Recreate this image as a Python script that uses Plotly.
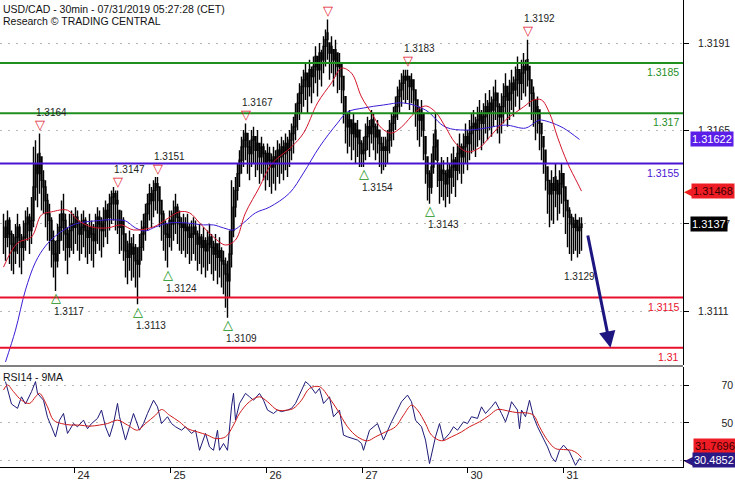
import plotly.graph_objects as go

# ---------------- data ----------------
closes = [
    1.3136, 1.3133, 1.3138, 1.3134, 1.3131, 1.3129, 1.3133, 1.3136, 1.3132, 1.3130,
    1.3133, 1.3137, 1.3139, 1.3135, 1.3138, 1.3148, 1.3155, 1.3152, 1.3158, 1.3150,
    1.3148, 1.3144, 1.3140, 1.3138, 1.3132, 1.3128, 1.3126, 1.3132, 1.3136, 1.3140,
    1.3138, 1.3134, 1.3130, 1.3135, 1.3137, 1.3136, 1.3139, 1.3137, 1.3134, 1.3136,
    1.3138, 1.3135, 1.3133, 1.3136, 1.3134, 1.3132, 1.3136, 1.3139, 1.3137, 1.3135,
    1.3138, 1.3141, 1.3139, 1.3143, 1.3145, 1.3146, 1.3143, 1.3144, 1.3136, 1.3138,
    1.3134, 1.3129, 1.3127, 1.3131, 1.3128, 1.3130, 1.3126, 1.3125, 1.3130, 1.3134,
    1.3136, 1.3140, 1.3143, 1.3146, 1.3144, 1.3147, 1.3149, 1.3148, 1.3144, 1.3140,
    1.3137, 1.3134, 1.3133, 1.3138, 1.3137, 1.3140, 1.3142, 1.3139, 1.3137, 1.3136,
    1.3137, 1.3135, 1.3136, 1.3133, 1.3134, 1.3136, 1.3134, 1.3131, 1.3133, 1.3130,
    1.3132, 1.3129, 1.3131, 1.3133, 1.3130, 1.3128, 1.3131, 1.3127, 1.3129, 1.3126,
    1.3125, 1.3122, 1.3120, 1.3128, 1.3135, 1.3142, 1.3147, 1.3152, 1.3156, 1.3160,
    1.3162, 1.3164, 1.3160, 1.3158, 1.3162, 1.3163, 1.3159, 1.3161, 1.3157, 1.3160,
    1.3158, 1.3155, 1.3158, 1.3156, 1.3154, 1.3157, 1.3155, 1.3159, 1.3157, 1.3160,
    1.3158, 1.3161, 1.3159, 1.3162, 1.3164, 1.3166, 1.3170, 1.3173, 1.3176, 1.3178,
    1.3180, 1.3182, 1.3178, 1.3183, 1.3181, 1.3184, 1.3187, 1.3183, 1.3188, 1.3186,
    1.3190, 1.3192, 1.3194, 1.3188, 1.3190, 1.3186, 1.3189, 1.3184, 1.3185, 1.3181,
    1.3177, 1.3170, 1.3166, 1.3168, 1.3164, 1.3167, 1.3163, 1.3165, 1.3161, 1.3158,
    1.3159, 1.3163, 1.3166, 1.3164, 1.3168, 1.3166, 1.3163, 1.3165, 1.3161, 1.3159,
    1.3160, 1.3159, 1.3162, 1.3165, 1.3167, 1.3169, 1.3172, 1.3175, 1.3177, 1.3179,
    1.3181, 1.3180, 1.3181, 1.3178, 1.3180, 1.3177, 1.3174, 1.3170, 1.3168, 1.3171,
    1.3165, 1.3158, 1.3152, 1.3148, 1.3154, 1.3160, 1.3165, 1.3156, 1.3150, 1.3153,
    1.3152, 1.3149, 1.3153, 1.3151, 1.3154, 1.3156, 1.3153, 1.3158, 1.3160, 1.3157,
    1.3160, 1.3163, 1.3161, 1.3164, 1.3166, 1.3167, 1.3165, 1.3168, 1.3170, 1.3167,
    1.3169, 1.3172, 1.3170, 1.3173, 1.3171, 1.3174, 1.3176, 1.3172, 1.3169, 1.3172,
    1.3175, 1.3178, 1.3174, 1.3176, 1.3179, 1.3177, 1.3180, 1.3183, 1.3179, 1.3182,
    1.3184, 1.3183, 1.3186, 1.3180, 1.3176, 1.3174, 1.3170, 1.3172, 1.3167, 1.3164,
    1.3160, 1.3155, 1.3150, 1.3146, 1.3149, 1.3147, 1.3151, 1.3146, 1.3149, 1.3152,
    1.3148, 1.3144, 1.3141, 1.3139, 1.3137, 1.3136, 1.3138, 1.3135, 1.3136, 1.3137,
]
highs = [
    1.3140, 1.3138, 1.3141, 1.3139, 1.3135, 1.3134, 1.3137, 1.3140, 1.3137, 1.3134,
    1.3138, 1.3141, 1.3142, 1.3140, 1.3145, 1.3160, 1.3162, 1.3158, 1.3164, 1.3157,
    1.3153, 1.3150, 1.3146, 1.3143, 1.3139, 1.3135, 1.3132, 1.3137, 1.3140, 1.3144,
    1.3146, 1.3140, 1.3136, 1.3140, 1.3141, 1.3140, 1.3142, 1.3141, 1.3138, 1.3140,
    1.3141, 1.3139, 1.3137, 1.3140, 1.3138, 1.3137, 1.3140, 1.3142, 1.3141, 1.3139,
    1.3142, 1.3144, 1.3143, 1.3146, 1.3147, 1.3148, 1.3147, 1.3147, 1.3141, 1.3141,
    1.3139, 1.3134, 1.3132, 1.3135, 1.3133, 1.3134, 1.3131, 1.3130, 1.3134, 1.3138,
    1.3140, 1.3143, 1.3146, 1.3149, 1.3148, 1.3150, 1.3151, 1.3151, 1.3148, 1.3144,
    1.3141, 1.3138, 1.3137, 1.3141, 1.3141, 1.3144, 1.3146, 1.3143, 1.3141, 1.3139,
    1.3140, 1.3139, 1.3140, 1.3137, 1.3138, 1.3139, 1.3138, 1.3135, 1.3137, 1.3134,
    1.3136, 1.3133, 1.3135, 1.3137, 1.3134, 1.3132, 1.3134, 1.3131, 1.3133, 1.3130,
    1.3129, 1.3127, 1.3126, 1.3135, 1.3150, 1.3148, 1.3151, 1.3155, 1.3159, 1.3163,
    1.3165, 1.3167, 1.3164, 1.3162, 1.3165, 1.3166, 1.3163, 1.3165, 1.3161, 1.3163,
    1.3161, 1.3159, 1.3161, 1.3160, 1.3158, 1.3160, 1.3159, 1.3162, 1.3161, 1.3163,
    1.3162, 1.3164, 1.3163, 1.3165, 1.3167, 1.3169, 1.3173, 1.3176, 1.3179, 1.3181,
    1.3183, 1.3185, 1.3182, 1.3186, 1.3184, 1.3187, 1.3190, 1.3187, 1.3191, 1.3189,
    1.3193, 1.3195, 1.3198, 1.3191, 1.3193, 1.3189, 1.3192, 1.3188, 1.3188, 1.3185,
    1.3181, 1.3175, 1.3170, 1.3171, 1.3168, 1.3170, 1.3167, 1.3168, 1.3165, 1.3162,
    1.3163, 1.3167, 1.3169, 1.3168, 1.3171, 1.3170, 1.3167, 1.3168, 1.3165, 1.3163,
    1.3163, 1.3163, 1.3165, 1.3168, 1.3170, 1.3172, 1.3175, 1.3178, 1.3180, 1.3182,
    1.3183, 1.3183, 1.3183, 1.3181, 1.3182, 1.3180, 1.3177, 1.3174, 1.3172, 1.3174,
    1.3170, 1.3163, 1.3157, 1.3153, 1.3158, 1.3164, 1.3170, 1.3162, 1.3155, 1.3157,
    1.3156, 1.3153, 1.3157, 1.3155, 1.3158, 1.3160, 1.3157, 1.3161, 1.3164, 1.3161,
    1.3164, 1.3167, 1.3165, 1.3168, 1.3170, 1.3171, 1.3169, 1.3172, 1.3174, 1.3171,
    1.3173, 1.3176, 1.3174, 1.3177, 1.3175, 1.3178, 1.3180, 1.3176, 1.3173, 1.3176,
    1.3179, 1.3182, 1.3178, 1.3180, 1.3183, 1.3181, 1.3184, 1.3187, 1.3183, 1.3186,
    1.3188, 1.3186, 1.3192, 1.3184, 1.3180, 1.3178, 1.3174, 1.3175, 1.3171, 1.3167,
    1.3163, 1.3159, 1.3154, 1.3150, 1.3153, 1.3151, 1.3155, 1.3150, 1.3153, 1.3155,
    1.3152, 1.3148, 1.3144, 1.3142, 1.3140, 1.3139, 1.3140, 1.3138, 1.3139, 1.3139,
]
lows = [
    1.3128, 1.3126, 1.3130, 1.3125, 1.3123, 1.3122, 1.3125, 1.3128, 1.3124, 1.3122,
    1.3126, 1.3129, 1.3132, 1.3128, 1.3131, 1.3136, 1.3144, 1.3142, 1.3146, 1.3141,
    1.3140, 1.3136, 1.3132, 1.3129, 1.3124, 1.3121, 1.3117, 1.3124, 1.3128, 1.3132,
    1.3129, 1.3126, 1.3122, 1.3127, 1.3129, 1.3128, 1.3131, 1.3129, 1.3126, 1.3128,
    1.3130, 1.3127, 1.3125, 1.3128, 1.3126, 1.3124, 1.3128, 1.3131, 1.3129, 1.3127,
    1.3130, 1.3133, 1.3131, 1.3135, 1.3137, 1.3138, 1.3135, 1.3134, 1.3128, 1.3129,
    1.3126, 1.3121, 1.3119, 1.3123, 1.3120, 1.3121, 1.3118, 1.3113, 1.3121, 1.3126,
    1.3129, 1.3132, 1.3135, 1.3138, 1.3136, 1.3139, 1.3141, 1.3140, 1.3136, 1.3132,
    1.3129, 1.3126, 1.3124, 1.3130, 1.3129, 1.3132, 1.3134, 1.3131, 1.3129, 1.3128,
    1.3129, 1.3127, 1.3128, 1.3125, 1.3126, 1.3128, 1.3126, 1.3123, 1.3125, 1.3122,
    1.3124, 1.3121, 1.3123, 1.3125, 1.3122, 1.3120, 1.3123, 1.3119, 1.3121, 1.3118,
    1.3116, 1.3112, 1.3109, 1.3115, 1.3124, 1.3133, 1.3139, 1.3144, 1.3148, 1.3152,
    1.3154, 1.3156, 1.3152, 1.3150, 1.3154, 1.3155, 1.3151, 1.3153, 1.3149, 1.3152,
    1.3150, 1.3147, 1.3150, 1.3148, 1.3146, 1.3149, 1.3147, 1.3151, 1.3149, 1.3152,
    1.3150, 1.3153, 1.3151, 1.3154, 1.3156, 1.3158, 1.3162, 1.3165, 1.3168, 1.3170,
    1.3172, 1.3174, 1.3170, 1.3175, 1.3173, 1.3176, 1.3179, 1.3175, 1.3180, 1.3178,
    1.3182, 1.3184, 1.3186, 1.3180, 1.3182, 1.3178, 1.3181, 1.3176, 1.3177, 1.3173,
    1.3167, 1.3161, 1.3158, 1.3160, 1.3156, 1.3159, 1.3155, 1.3157, 1.3154, 1.3154,
    1.3154, 1.3156, 1.3159, 1.3157, 1.3161, 1.3159, 1.3156, 1.3158, 1.3154, 1.3152,
    1.3153, 1.3154, 1.3155, 1.3158, 1.3160, 1.3162, 1.3165, 1.3168, 1.3170, 1.3172,
    1.3174, 1.3173, 1.3174, 1.3171, 1.3173, 1.3170, 1.3166, 1.3162, 1.3160, 1.3163,
    1.3156, 1.3149, 1.3144, 1.3143, 1.3146, 1.3152, 1.3156, 1.3148, 1.3143, 1.3145,
    1.3144, 1.3142, 1.3145, 1.3143, 1.3146, 1.3148, 1.3145, 1.3150, 1.3152, 1.3149,
    1.3152, 1.3155, 1.3153, 1.3156, 1.3158, 1.3159, 1.3157, 1.3160, 1.3162, 1.3159,
    1.3161, 1.3164, 1.3162, 1.3165, 1.3163, 1.3166, 1.3168, 1.3164, 1.3161, 1.3164,
    1.3167, 1.3170, 1.3166, 1.3168, 1.3171, 1.3169, 1.3172, 1.3175, 1.3171, 1.3174,
    1.3176, 1.3175, 1.3178, 1.3172, 1.3168, 1.3166, 1.3162, 1.3164, 1.3159, 1.3156,
    1.3152, 1.3147, 1.3140, 1.3136, 1.3138, 1.3137, 1.3142, 1.3138, 1.3140, 1.3143,
    1.3139, 1.3134, 1.3130, 1.3128, 1.3126, 1.3128, 1.3129, 1.3127, 1.3128, 1.3129,
]

# moving averages on price (bar index, value)
ma_blue_idx = [1, 6, 11, 16, 21, 26, 31, 36, 41, 46, 51, 56, 61, 66, 71, 76, 83, 91, 100, 105,
               110, 115, 120, 126, 133, 143, 150, 158, 167, 172, 180, 190, 200, 211, 221, 231,
               241, 251, 261, 266, 268, 273, 280, 288]
ma_blue_vals = [1.30958, 1.31053, 1.31173, 1.31256, 1.31304, 1.31334, 1.31355, 1.31370, 1.31376,
                1.31379, 1.31382, 1.31382, 1.31379, 1.31358, 1.31349, 1.31361, 1.31373, 1.31373,
                1.31367, 1.31367, 1.31358, 1.31352, 1.31373, 1.31403, 1.31420, 1.31462, 1.31522,
                1.31600, 1.31671, 1.31704, 1.31716, 1.31725, 1.31731, 1.31710, 1.31659, 1.31650,
                1.31656, 1.31665, 1.31656, 1.31674, 1.31680, 1.31674, 1.31656, 1.31622]
ma_red_idx = [0, 7, 14, 19, 24, 32, 37, 44, 52, 59, 65, 75, 81, 88, 93, 98, 105, 111, 116, 121,
              128, 133, 136, 144, 150, 157, 164, 169, 174, 179, 184, 189, 194, 199, 206, 211,
              216, 221, 226, 232, 238, 243, 251, 260, 265, 269, 273, 277, 282, 287, 289]
ma_red_vals = [1.31241, 1.31313, 1.31331, 1.31397, 1.31406, 1.31411, 1.31382, 1.31361, 1.31358,
               1.31367, 1.31352, 1.31361, 1.31382, 1.31406, 1.31403, 1.31373, 1.31331, 1.31307,
               1.31322, 1.31403, 1.31480, 1.31540, 1.31561, 1.31600, 1.31641, 1.31731, 1.31791,
               1.31835, 1.31820, 1.31749, 1.31701, 1.31656, 1.31641, 1.31659, 1.31704, 1.31722,
               1.31704, 1.31659, 1.31611, 1.31585, 1.31597, 1.31629, 1.31680, 1.31719, 1.31740,
               1.31740, 1.31701, 1.31629, 1.31552, 1.31492, 1.31468]

# RSI14 and its 9MA (bar index, value)
rsi_idx = [1, 2, 4, 7, 9, 11, 14, 16, 17, 20, 22, 24, 26, 28, 30, 32, 35, 37, 40, 42,
           44, 47, 49, 51, 53, 55, 57, 58, 61, 63, 65, 68, 70, 72, 75, 77, 79, 82, 84, 86,
           89, 91, 94, 96, 98, 101, 103, 105, 107, 108, 110, 112, 114, 115, 116, 118, 121, 123, 125, 128,
           130, 132, 135, 137, 139, 142, 144, 146, 149, 151, 153, 156, 158, 160, 163, 165, 168, 170, 172, 175,
           177, 179, 180, 183, 185, 187, 190, 192, 194, 197, 199, 202, 204, 206, 209, 211, 213, 216, 218, 220,
           223, 225, 227, 230, 232, 234, 237, 239, 241, 244, 246, 249, 251, 253, 254, 257, 258, 259, 261, 263,
           265, 267, 270, 272, 274, 276, 278, 280, 283, 285, 286, 288, 289]
rsi_vals = [71.8, 68, 60, 57.7, 63.8, 60, 66.5, 71.8, 65.6, 62, 53, 48, 42.7, 51.5, 55, 44.5, 49.7, 48, 51.5, 47,
            49.7, 52.4, 56.8, 48, 42.7, 49.7, 60.3, 53.3, 41, 48, 55, 46.2, 49.7, 55, 62, 58.5, 49.7, 53.3, 49.7, 48,
            46.2, 48, 44.5, 46.2, 35.6, 44.5, 37.4, 35.6, 46.2, 35.6, 39.2, 35.6, 58.5, 65.6, 51.5, 60.3, 65.6, 63.8, 62, 65.6,
            62, 56.8, 55, 56.8, 56, 56.8, 57.7, 60.3, 67.4, 71.8, 70, 65.6, 68.2, 60.3, 63.8, 53.3, 56.8, 43.6, 42.7, 41.8,
            41, 39.2, 35.6, 46.2, 48, 49.7, 41, 46.2, 50.6, 56.8, 61.2, 64.7, 61.2, 51.5, 48, 41, 28.6, 42.7, 49.7, 41,
            44.5, 48, 46.2, 50.6, 49.7, 53.3, 52.4, 58.5, 55, 58.5, 61.2, 55, 50.6, 56.8, 61.2, 56.8, 47, 56.8, 53.3, 62,
            53.3, 48, 41.8, 37.4, 32.1, 29.5, 35.6, 38.3, 34.8, 30.4, 27.7, 31.2, 30.4852]
rsi_ma_idx = [0, 2, 5, 9, 13, 16, 18, 22, 25, 29, 34, 38, 43, 48, 52, 57, 62, 67, 71, 76,
              79, 83, 88, 92, 97, 102, 106, 111, 115, 118, 123, 128, 132, 137, 142, 145, 149, 153, 158, 163,
              167, 172, 177, 182, 186, 191, 196, 200, 204, 207, 211, 214, 219, 224, 229, 233, 238, 243, 247, 252,
              257, 261, 265, 268, 272, 276, 280, 284, 287, 289]
rsi_ma_vals = [67.4, 70, 66.5, 62, 60.3, 63.8, 65.6, 58.5, 51.5, 49.7, 48.9, 48.9, 48.3, 48.9, 49.7, 51.5, 48.9, 46.2, 49.7, 54.1,
               57.1, 54.1, 50.6, 47.1, 45.3, 43.6, 41.8, 42.7, 48.9, 55, 61.2, 63.8, 61.2, 56.8, 56.8, 57.7, 62, 68.2, 69.1, 63,
               56.8, 48, 42.7, 40.6, 42.7, 45.3, 48, 54.1, 59.4, 56.8, 49.7, 43.6, 40.6, 42.7, 45.3, 48, 50.6, 54.1, 57.1, 56.4,
               55.4, 55.4, 54.1, 48, 40.9, 36.5, 36, 35.6, 33.9, 31.7696]

# horizontal levels
levels = [1.3185, 1.317, 1.3155, 1.3115, 1.31]
level_labels = ["1.3185", "1.317", "1.3155", "1.3115", "1.31"]

# swing points
swing_high_idx = [18, 57, 77, 121, 162, 202, 262]
swing_high_text = ["1.3164", "1.3147", "1.3151", "1.3167", "", "1.3183", "1.3192"]
swing_low_idx = [26, 67, 82, 112, 180, 213]
swing_low_text = ["1.3117", "1.3113", "1.3124", "1.3109", "1.3154", "1.3143"]
target_note_idx = 285
target_note_text = "1.3129"

# projected move (bar index, price)
arrow_from = (292, 1.3134)
arrow_to = (303.5, 1.3100)

# axis ticks
day_ticks = [35.5, 83.5, 131.5, 179.5, 232, 280]
day_labels = ["24", "25", "26", "27", "30", "31"]
price_ticks = [1.3191, 1.3165, 1.3137, 1.3111]
rsi_ticks = [30, 50, 70]

assert len(closes) == len(highs) == len(lows)
assert len(rsi_idx) == len(rsi_vals) and len(rsi_ma_idx) == len(rsi_ma_vals)
assert len(ma_blue_idx) == len(ma_blue_vals) and len(ma_red_idx) == len(ma_red_vals)

# ---------------- styles ----------------
FONT = "Liberation Sans, Arial, sans-serif"
GREEN = "#1f8f1f"
PURPLE = "#4a14d4"
RED = "#e8112d"
level_colors = [GREEN, GREEN, PURPLE, RED, RED]
PAD = "\u2007" * 4  # pushes RSI tick labels to the right like the reference

n = len(closes)
bar_idx = list(range(n))
opens = [closes[0]] + [min(max(closes[i - 1], lows[i]), highs[i]) for i in range(1, n)]

fig = go.Figure()
fig.add_trace(go.Candlestick(
    x=bar_idx, open=opens, high=highs, low=lows, close=closes,
    increasing=dict(line=dict(color="black", width=1.4), fillcolor="white"),
    decreasing=dict(line=dict(color="black", width=1.4), fillcolor="black"),
    whiskerwidth=0, xaxis="x", yaxis="y", showlegend=False, hoverinfo="none"))
fig.add_trace(go.Scatter(x=ma_blue_idx, y=ma_blue_vals, mode="lines", line=dict(color="#3c1cd6", width=1, shape="spline"),
                         xaxis="x", yaxis="y", showlegend=False, hoverinfo="skip"))
fig.add_trace(go.Scatter(x=ma_red_idx, y=ma_red_vals, mode="lines", line=dict(color="#d4142a", width=1, shape="spline"),
                         xaxis="x", yaxis="y", showlegend=False, hoverinfo="skip"))
fig.add_trace(go.Scatter(x=rsi_idx, y=rsi_vals, mode="lines", line=dict(color="#1e1a78", width=1),
                         xaxis="x", yaxis="y2", showlegend=False, hoverinfo="skip"))
fig.add_trace(go.Scatter(x=rsi_ma_idx, y=rsi_ma_vals, mode="lines", line=dict(color="#d01a1a", width=1, shape="spline"),
                         xaxis="x", yaxis="y2", showlegend=False, hoverinfo="skip"))

shapes = []
annotations = []
for v, lab, c in zip(levels, level_labels, level_colors):
    shapes.append(dict(type="line", xref="paper", x0=0, x1=1, yref="y", y0=v, y1=v,
                       line=dict(color=c, width=2), layer="above"))
    annotations.append(dict(xref="paper", x=1, xanchor="right", xshift=-2, yref="y", y=v, yanchor="top",
                            yshift=-1, text=lab, showarrow=False, font=dict(family=FONT, size=10.5, color=c)))

PRICE_DOM = [1 - 365 / 467, 1]
RSI_DOM = [0, 100 / 467]
shapes.append(dict(type="line", xref="paper", x0=0, x1=1, yref="paper", y0=1 - 366 / 467, y1=1 - 366 / 467,
                   line=dict(color="black", width=1)))

# swing markers
for i, t in zip(swing_high_idx, swing_high_text):
    annotations.append(dict(x=i, y=highs[i], xref="x", yref="y", text="▽", showarrow=False, yshift=9,
                            font=dict(family="DejaVu Sans", size=13, color="#e0102a")))
    if t:
        annotations.append(dict(x=i, y=highs[i], xref="x", yref="y", text=t, showarrow=False, yshift=21,
                                xanchor="left", xshift=-6, font=dict(family=FONT, size=10, color="#222")))
for i, t in zip(swing_low_idx, swing_low_text):
    annotations.append(dict(x=i, y=lows[i], xref="x", yref="y", text="△", showarrow=False, yshift=-7,
                            font=dict(family="DejaVu Sans", size=13, color="#149414")))
    annotations.append(dict(x=i, y=lows[i], xref="x", yref="y", text=t, showarrow=False, yshift=-21,
                            xanchor="left", xshift=-4, font=dict(family=FONT, size=10, color="#222")))
annotations.append(dict(x=target_note_idx, y=lows[target_note_idx], xref="x", yref="y", text=target_note_text,
                        showarrow=False, yshift=-22, xanchor="left", xshift=-12,
                        font=dict(family=FONT, size=10, color="#222")))

# projection arrow
annotations.append(dict(x=arrow_to[0], y=arrow_to[1], xref="x", yref="y", ax=arrow_from[0], ay=arrow_from[1],
                        axref="x", ayref="y", showarrow=True, arrowhead=2, arrowsize=1.1, arrowwidth=3,
                        arrowcolor="#1e1680", text=""))

# title / panel caption
annotations.append(dict(xref="paper", yref="paper", x=0, y=1, xanchor="left", yanchor="top", xshift=1, yshift=-1,
                        text="USD/CAD - 30min - 07/31/2019 05:27:28 (CET)", showarrow=False,
                        font=dict(family=FONT, size=10.5, color="#111")))
annotations.append(dict(xref="paper", yref="paper", x=0, y=1, xanchor="left", yanchor="top", xshift=1, yshift=-13,
                        text="Research © TRADING CENTRAL", showarrow=False,
                        font=dict(family=FONT, size=10.5, color="#111")))
annotations.append(dict(xref="paper", yref="paper", x=0, y=RSI_DOM[1], xanchor="left", yanchor="top", xshift=1,
                        yshift=-2, text="RSI14 - 9MA", showarrow=False,
                        font=dict(family=FONT, size=10.5, color="#111")))

def box(y, yref, text, bg, fg, xshift=7, yshift=0):
    annotations.append(dict(xref="paper", x=1, xanchor="left", xshift=xshift, yref=yref, y=y, yshift=yshift,
                            text=text, showarrow=False, bgcolor=bg, borderpad=1,
                            font=dict(family=FONT, size=11, color=fg)))

def tip(y, yref, color, yshift=0):
    annotations.append(dict(xref="paper", x=1, xanchor="left", xshift=-1, yref=yref, y=y, yshift=yshift,
                            text="◀", showarrow=False, font=dict(family="DejaVu Sans", size=14, color=color)))

box(ma_blue_vals[-1], "y", f"{ma_blue_vals[-1]:.5f}", "#5a1ee8", "white", xshift=7)
tip(ma_red_vals[-1], "y", "#ee1c25")
box(ma_red_vals[-1], "y", f"{ma_red_vals[-1]:.5f}", "#ee1c25", "#3a0000", xshift=8)
box(closes[-1], "y", f"{closes[-1]:.4f}", "black", "white", xshift=7)
box(rsi_ma_vals[-1], "y2", f"{rsi_ma_vals[-1]:.4f}", "#ee1c25", "#3a0000", xshift=10, yshift=12)
tip(rsi_vals[-1], "y2", "#2a1a86")
box(rsi_vals[-1], "y2", f"{rsi_vals[-1]:.4f}", "#2a1a86", "white", xshift=9)

axis_common = dict(showline=True, linecolor="black", linewidth=1, ticks="outside", tickcolor="black",
                   zeroline=False, automargin=False)

fig.update_layout(
    template="none",
    width=735, height=480,
    margin=dict(l=0, r=52, t=0, b=13),
    paper_bgcolor="white", plot_bgcolor="white",
    showlegend=False,
    shapes=shapes, annotations=annotations,
    xaxis=dict(range=[-1.75, 339.75], anchor="y2", tickvals=day_ticks, ticktext=day_labels, ticklen=5,
               showgrid=False, rangeslider=dict(visible=False), ticklabelshift=9, ticklabelstandoff=-7,
               tickfont=dict(family=FONT, size=11, color="#222"), **axis_common),
    yaxis=dict(domain=PRICE_DOM, range=[1.309488, 1.320384], side="right", anchor="x", tickvals=price_ticks,
               ticktext=[f"{v:.4f}" for v in price_ticks], ticklen=5, showgrid=True, gridcolor="#b8b8b8",
               griddash="2px,6px", ticklabelstandoff=7, tickfont=dict(family=FONT, size=10.5, color="#222"),
               **axis_common),
    yaxis2=dict(domain=RSI_DOM, range=[26.8, 79.5], side="right", anchor="x", tickvals=rsi_ticks,
                ticktext=[PAD + str(v) for v in rsi_ticks], ticklen=5, showgrid=True, gridcolor="#b8b8b8",
                griddash="2px,6px", ticklabelstandoff=7, tickfont=dict(family=FONT, size=10.5, color="#222"),
                **axis_common),
)

fig.write_html("out.html", config={"displayModeBar": False},
               post_script="document.body.style.margin='0';")
